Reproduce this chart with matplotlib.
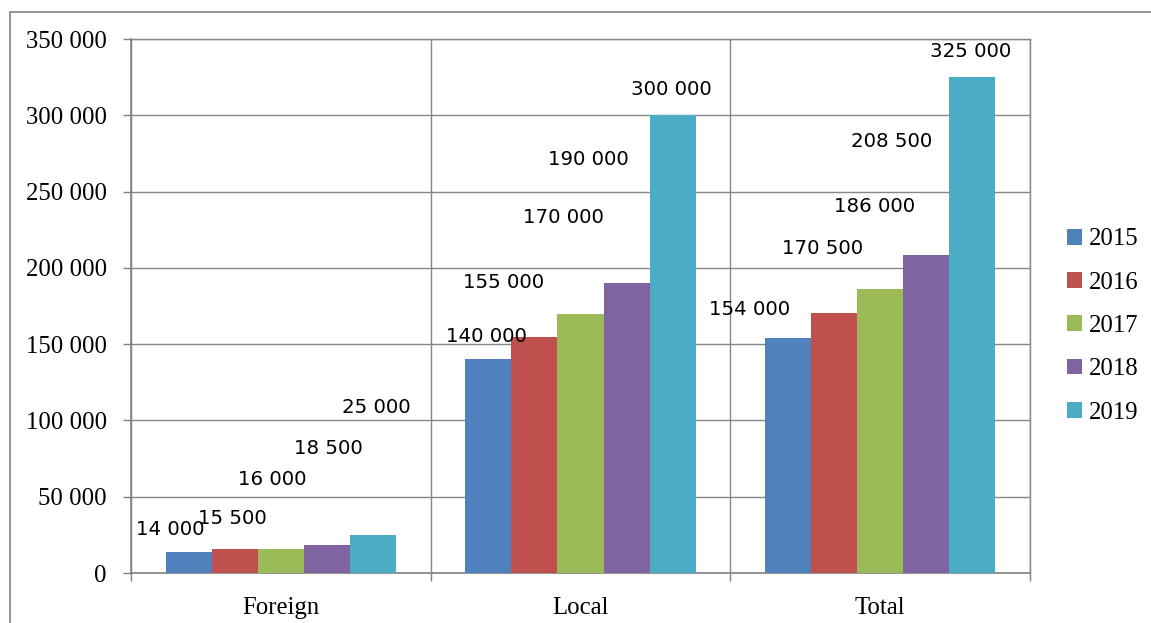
import matplotlib
matplotlib.use("Agg")
import matplotlib.pyplot as plt
from matplotlib.patches import Patch
from matplotlib.lines import Line2D
from matplotlib.ticker import FuncFormatter, FixedLocator
import numpy as np

# Visitor counts by origin and year
categories = ["Foreign", "Local", "Total"]
years = ["2015", "2016", "2017", "2018", "2019"]
v2015 = [14000, 140000, 154000]
v2016 = [15500, 155000, 170500]
v2017 = [16000, 170000, 186000]
v2018 = [18500, 190000, 208500]
v2019 = [25000, 300000, 325000]
series = [v2015, v2016, v2017, v2018, v2019]

colors = ["#4F81BD", "#C0504D", "#9BBB59", "#8064A2", "#4BACC6"]

# Hand-placed anchors (x in category units, y in data units) for the value labels
label_anchor = [
    [(0.130, 28200), (1.187, 154700), (2.063, 172400)],
    [(0.337, 36000), (1.243, 190700), (2.307, 212400)],
    [(0.473, 61600), (1.443, 233300), (2.480, 240500)],
    [(0.657, 81900), (1.527, 270700), (2.537, 283100)],
    [(0.820, 108800), (1.803, 316600), (2.803, 341500)],
]

W, H, DPI = 1151, 623, 100
fig = plt.figure(figsize=(W / DPI, H / DPI), dpi=DPI)
ax = fig.add_axes([131 / W, 50 / H, 899 / W, 534 / H])

serif = "Liberation Serif"
sans = "DejaVu Sans"
grid_c = "#868686"

n = len(series)
bar_w = 1 / 6.5
centers = np.arange(len(categories)) + 0.5
for i, vals in enumerate(series):
    xs = centers + (i - (n - 1) / 2) * bar_w
    ax.bar(xs, vals, width=bar_w, color=colors[i], zorder=3, linewidth=0)

def fmt(v, pos=None):
    return f"{int(v):,}".replace(",", " ")

for i, vals in enumerate(series):
    for j, v in enumerate(vals):
        x, y = label_anchor[i][j]
        ax.text(x, y, fmt(v), ha="center", va="center", fontsize=14.2,
                family=sans, color="#000000", zorder=5)

ax.set_xlim(0, 3)
ax.set_ylim(0, 350000)
ax.yaxis.set_major_locator(FixedLocator(np.arange(0, 350001, 50000)))
ax.yaxis.set_major_formatter(FuncFormatter(fmt))
ax.xaxis.set_major_locator(FixedLocator([0, 1, 2, 3]))
ax.xaxis.set_major_formatter(FuncFormatter(lambda v, p: ""))
ax.xaxis.set_minor_locator(FixedLocator(centers))
ax.set_xticklabels(categories, minor=True)

ax.grid(True, which="major", color=grid_c, linewidth=1.0, zorder=0)
for s in ["top", "right"]:
    ax.spines[s].set_color(grid_c)
    ax.spines[s].set_linewidth(1.0)
for s in ["left", "bottom"]:
    ax.spines[s].set_color("#808080")
    ax.spines[s].set_linewidth(1.2)

ax.tick_params(axis="y", which="major", direction="out", length=6, width=1.0,
               color="#808080", pad=11.5, labelsize=17.8)
ax.tick_params(axis="x", which="major", direction="out", length=6, width=1.0,
               color="#808080")
ax.tick_params(axis="x", which="minor", length=0, pad=17, labelsize=17.8)
for lab in ax.get_yticklabels() + ax.get_xticklabels(minor=True):
    lab.set_family(serif)

handles = [Patch(facecolor=c, edgecolor="none") for c in colors]
leg = fig.legend(handles, years, loc="center left",
                 bbox_to_anchor=(1067 / W, 1 - 326 / H), frameon=False,
                 prop={"family": serif, "size": 17.8},
                 handlelength=0.6, handleheight=0.6, handletextpad=0.3,
                 labelspacing=0.86, borderaxespad=0, borderpad=0)

# Outer chart-area border
bx, by = 10 / W, 1 - 12 / H
fig.add_artist(Line2D([bx, bx], [by, -0.01], transform=fig.transFigure,
                      color="#8C8C8C", linewidth=1.3))
fig.add_artist(Line2D([bx, 1.01], [by, by], transform=fig.transFigure,
                      color="#8C8C8C", linewidth=1.3))

fig.savefig("out.png", dpi=DPI)
